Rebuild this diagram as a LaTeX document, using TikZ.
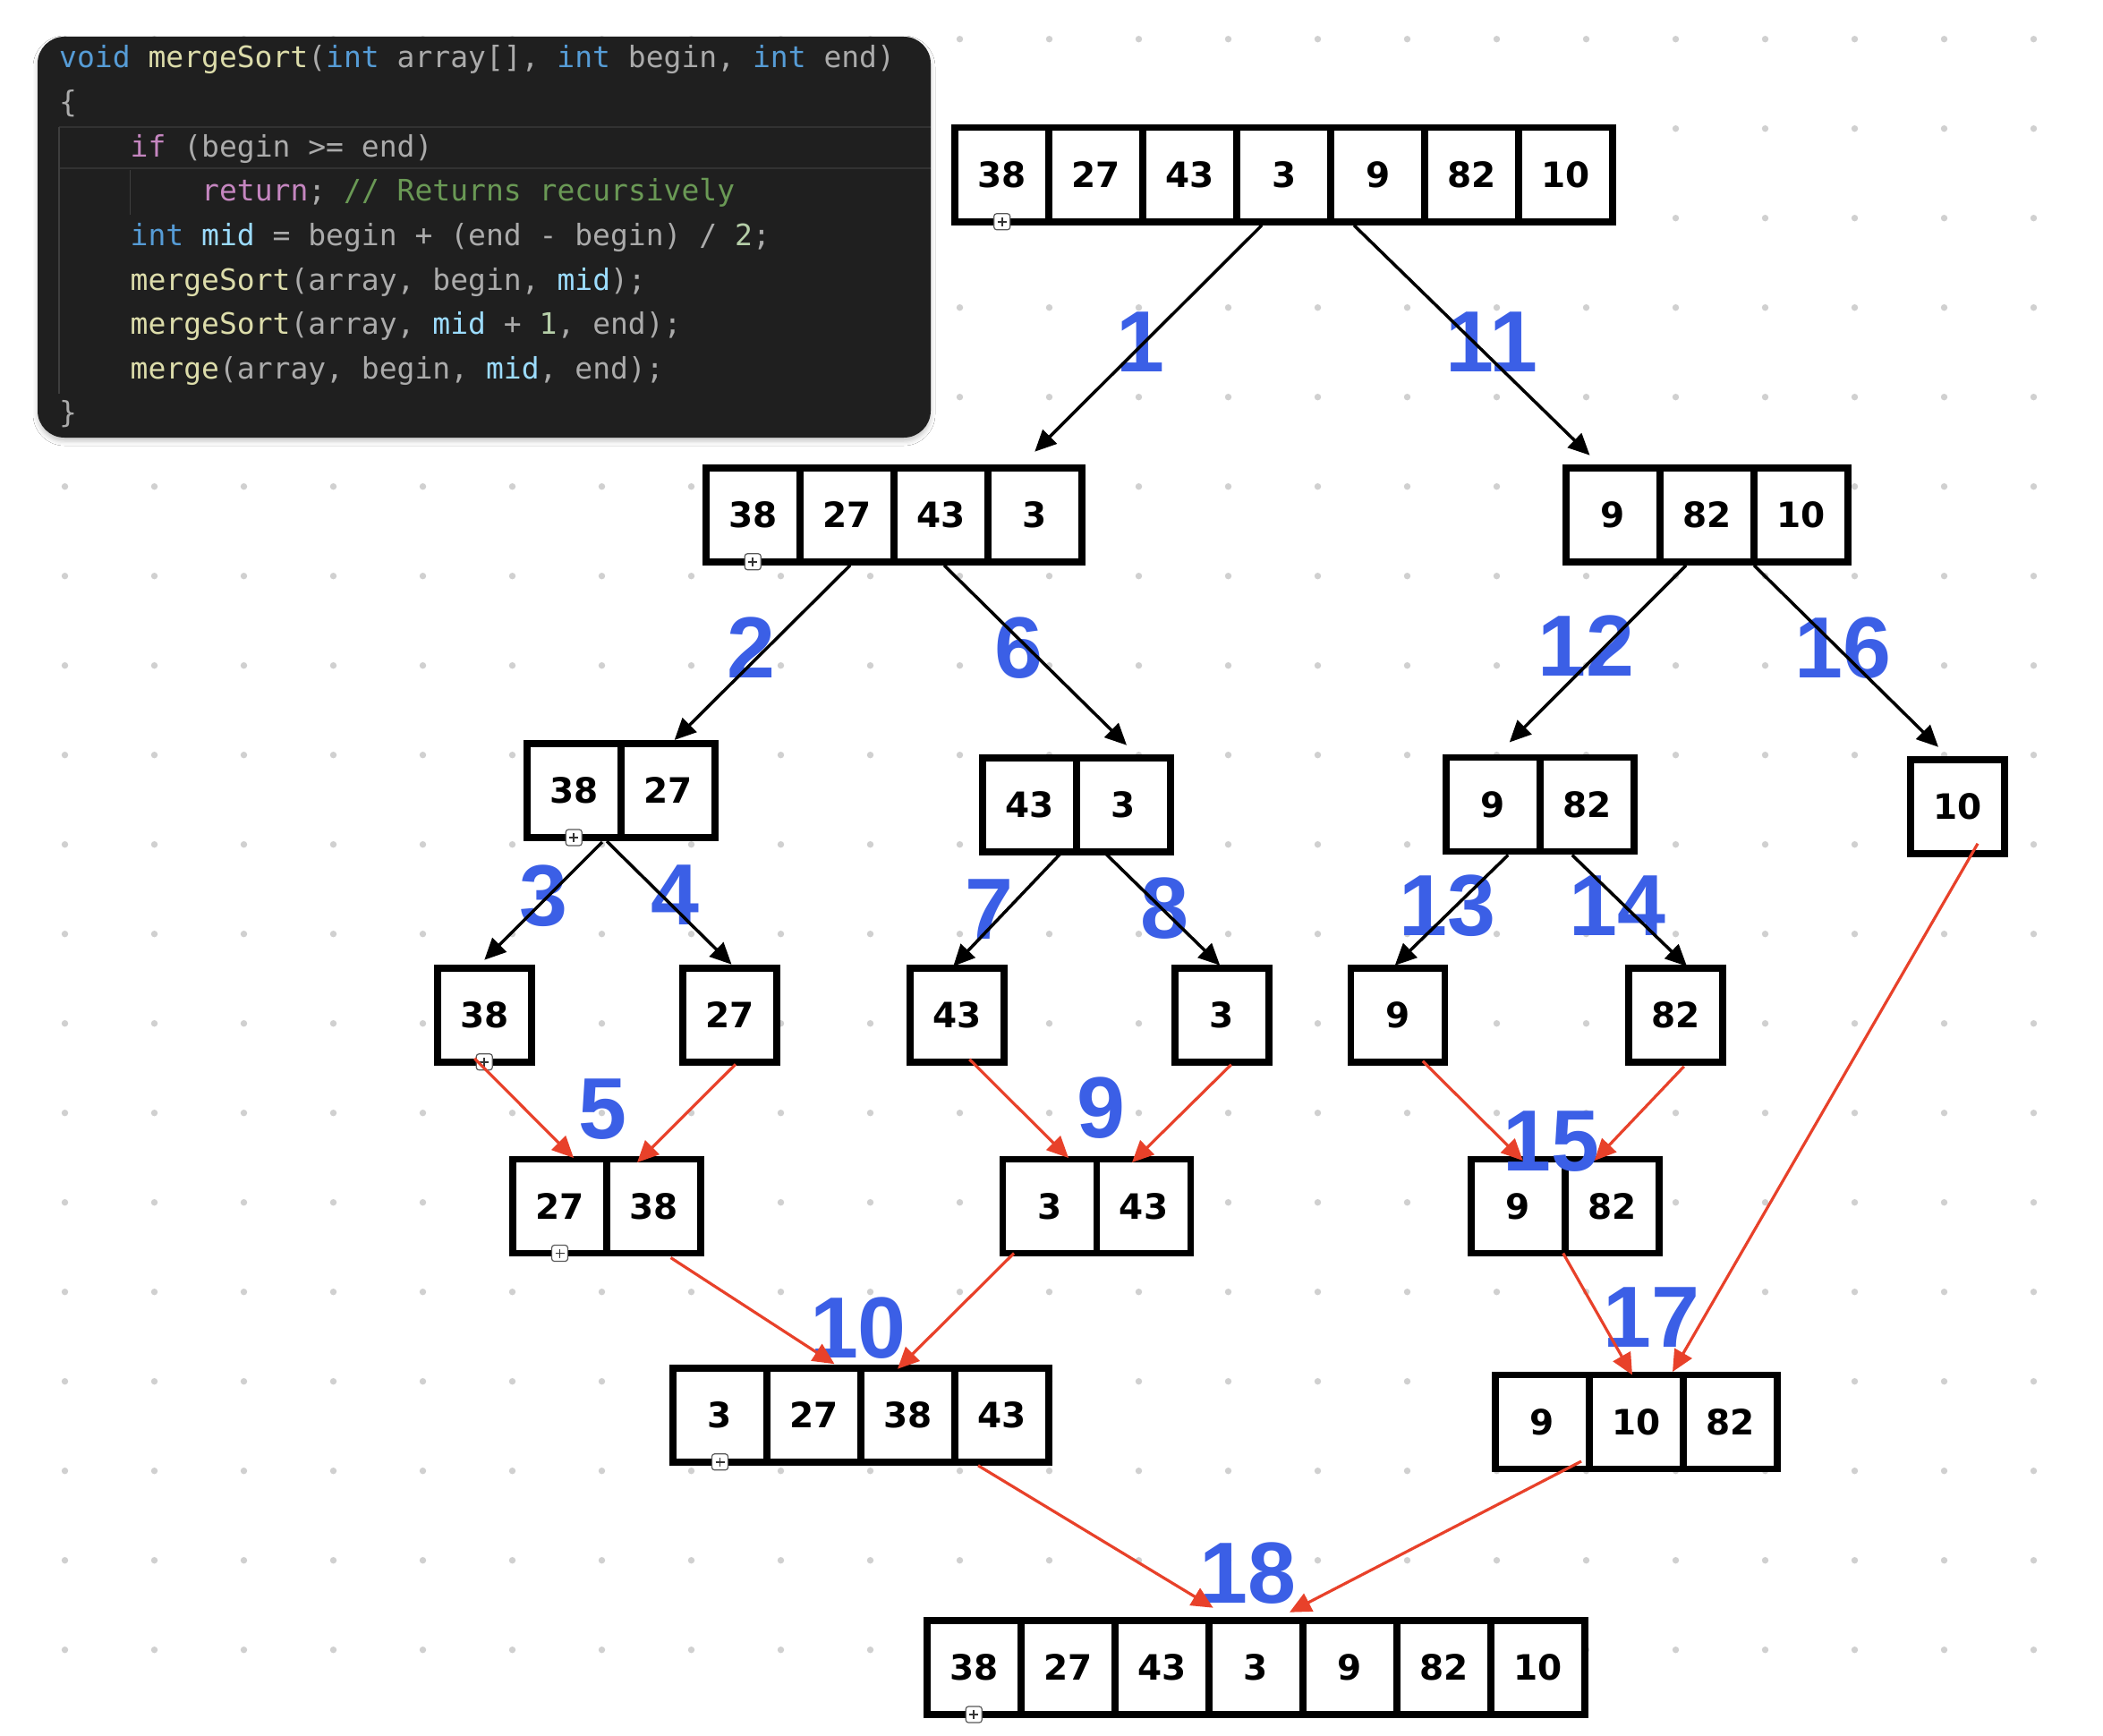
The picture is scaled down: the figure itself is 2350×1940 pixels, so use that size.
\documentclass[tikz,border=0pt]{standalone}
\usepackage{fontspec}
\usetikzlibrary{arrows.meta,calc,shadows.blur}

\newfontfamily\cellfont{DejaVu Sans}
\newfontfamily\stepfont{Liberation Sans}
\newfontfamily\codefont{DejaVu Sans Mono}

\definecolor{stepblue}{RGB}{59,95,230}
\definecolor{mergered}{RGB}{232,65,42}
\definecolor{dotgray}{RGB}{208,208,208}
\definecolor{codebg}{HTML}{1F1F1F}
\definecolor{codegray}{HTML}{ABABAB}
\definecolor{kwblue}{HTML}{569CD6}
\definecolor{fnyellow}{HTML}{DCDCAA}
\definecolor{midblue}{HTML}{9CDCFE}
\definecolor{ctlpink}{HTML}{C586C0}
\definecolor{cmtgreen}{HTML}{6A9955}
\definecolor{numgreen}{HTML}{B5CEA8}
\definecolor{guidegray}{HTML}{3E3E3E}
\definecolor{linehl}{HTML}{323232}

% syntax colouring helpers
\newcommand\ckw[1]{\textcolor{kwblue}{#1}}
\newcommand\cfn[1]{\textcolor{fnyellow}{#1}}
\newcommand\cmid[1]{\textcolor{midblue}{#1}}
\newcommand\cctl[1]{\textcolor{ctlpink}{#1}}
\newcommand\ccmt[1]{\textcolor{cmtgreen}{#1}}
\newcommand\cnum[1]{\textcolor{numgreen}{#1}}

\tikzset{
  cellbox/.style={draw=black, fill=white, line width=7.5pt, minimum size=105pt,
    inner sep=0pt, outer sep=0pt, font=\cellfont\bfseries\fontsize{39}{39}\selectfont},
  steplabel/.style={text=stepblue, inner sep=0pt,
    font=\stepfont\bfseries\fontsize{97}{97}\selectfont},
  divarrow/.style={-{Triangle[length=24pt,width=22pt]}, line width=3.5pt, draw=black},
  mergearrow/.style={-{Triangle[length=24pt,width=22pt]}, line width=3.2pt, draw=mergered},
  plusbox/.style={draw=black!65, fill=white, rounded corners=3pt, minimum size=18pt,
    inner sep=0pt, outer sep=0pt, line width=1.2pt,
    path picture={\draw[line width=1.8pt, black!80]
      ([xshift=-5pt]path picture bounding box.center) -- ([xshift=5pt]path picture bounding box.center)
      ([yshift=-5pt]path picture bounding box.center) -- ([yshift=5pt]path picture bounding box.center);}},
  codeline/.style={anchor=base west, inner sep=0pt, text=codegray,
    font=\codefont\fontsize{33}{33}\selectfont},
}

% a row of array cells: name, left x, top y, values
\newcommand\cellrow[4]{%
  \foreach \v [count=\k] in {#4}{%
    \node[cellbox] (#1-\k) at ({#2+105*\k-52.5},{#3+52.5}) {\v};
  }%
}

\begin{document}
\begin{tikzpicture}[x=1pt,y=-1pt]
\fill[white] (0,0) rectangle (2350,1940);
\useasboundingbox (0,0) rectangle (2350,1940);

% dotted canvas grid
\foreach \i in {0,...,22}{
  \foreach \j in {0,...,18}{
    \fill[dotgray] ({72.5+100*\i},{43.7+100*\j}) circle (3.7);
  }
}

% code panel
\fill[codebg, rounded corners=30pt,
  blur shadow={shadow xshift=0pt, shadow yshift=-4pt, shadow blur radius=5pt, shadow opacity=22}]
  (42,41) rectangle (1040,489);
\draw[line width=2pt, linehl] (66,142) -- (1040,142) (66,188) -- (1040,188);
\draw[line width=1.5pt, guidegray] (66,142) -- (66,440);
\draw[line width=1.5pt, guidegray] (145.5,190) -- (145.5,240);

\node[codeline] (c1) at (66,76) {\ckw{void} \cfn{mergeSort}(\ckw{int} array[], \ckw{int} begin, \ckw{int} end)};
\node[codeline] (c2) at (66,125.6) {\{};
\node[codeline] (c3) at (145.5,175.2) {\cctl{if} (begin >= end)};
\node[codeline] (c4) at (225,224.8) {\cctl{return}; \ccmt{// Returns recursively}};
\node[codeline] (c5) at (145.5,274.4) {\ckw{int} \cmid{mid} = begin + (end - begin) / \cnum{2};};
\node[codeline] (c6) at (145.5,324) {\cfn{mergeSort}(array, begin, \cmid{mid});};
\node[codeline] (c7) at (145.5,373.6) {\cfn{mergeSort}(array, \cmid{mid} + \cnum{1}, end);};
\node[codeline] (c8) at (145.5,423.2) {\cfn{merge}(array, begin, \cmid{mid}, end);};
\node[codeline] (c9) at (66,472.8) {\}};

% arrays
\cellrow{top}{1067.2}{142.75}{38,27,43,3,9,82,10}
\cellrow{lla}{788.75}{522.75}{38,27,43,3}
\cellrow{llb}{1749.75}{522.75}{9,82,10}
\cellrow{lta}{588.75}{831}{38,27}
\cellrow{ltb}{1097.75}{846.75}{43,3}
\cellrow{ltc}{1615.75}{846.5}{9,82}
\cellrow{ltd}{2134.75}{848.75}{10}
\cellrow{sa}{488.75}{1081.75}{38}
\cellrow{sb}{763}{1081.75}{27}
\cellrow{sc}{1016.75}{1081.75}{43}
\cellrow{sd}{1312.75}{1081.75}{3}
\cellrow{se}{1509.25}{1081.75}{9}
\cellrow{sf}{1819.75}{1081.75}{82}
\cellrow{ma}{573}{1295.5}{27,38}
\cellrow{mb}{1120.5}{1295.5}{3,43}
\cellrow{mc}{1643.75}{1295.5}{9,82}
\cellrow{na}{752}{1528.75}{3,27,38,43}
\cellrow{nb}{1671}{1536.5}{9,10,82}
\cellrow{fin}{1035.75}{1811}{38,27,43,3,9,82,10}

% step numbers
\node[steplabel] (n1) at (1274,382) {1};
\node[steplabel] (n11) at (1667,382) {11};
\node[steplabel] (n2) at (839,724) {2};
\node[steplabel] (n6) at (1138,724) {6};
\node[steplabel] (n12) at (1772,722) {12};
\node[steplabel] (n16) at (2059,724) {16};
\node[steplabel] (n3) at (607,1001) {3};
\node[steplabel] (n4) at (754,1000) {4};
\node[steplabel] (n7) at (1105,1016) {7};
\node[steplabel] (n8) at (1301,1015) {8};
\node[steplabel] (n13) at (1617,1012) {13};
\node[steplabel] (n14) at (1807,1012) {14};
\node[steplabel] (n5) at (673,1240) {5};
\node[steplabel] (n9) at (1230,1238) {9};
\node[steplabel] (n15) at (1733,1276) {15};
\node[steplabel] (n10) at (959,1484) {10};
\node[steplabel] (n17) at (1845,1472) {17};
\node[steplabel] (n18) at (1394,1758) {18};

% small expand handles
\node[plusbox] (h1) at (top-1.south) {};
\node[plusbox] (h2) at (lla-1.south) {};
\node[plusbox] (h3) at (lta-1.south) {};
\node[plusbox] (h4) at (sa-1.south) {};
\node[plusbox] (h5) at (ma-1.south) {};
\node[plusbox] (h6) at (na-1.south) {};
\node[plusbox] (h7) at (fin-1.south) {};

% splitting
\draw[divarrow] ($(top-4.south)+(-24.7,4)$) -- ($(lla-4.north)+(0,-18)$);
\draw[divarrow] ($(top-5.south)+(-26.7,4)$) -- ($(llb-1.north)+(-25.75,-14)$);
\draw[divarrow] ($(lla-2.south)+(3.75,4)$) -- ($(lta-2.north)+(7.4,-4)$);
\draw[divarrow] ($(lla-3.south)+(3.75,4)$) -- ($(ltb-2.north)+(3.75,-14)$);
\draw[divarrow] ($(llb-2.south)+(-23.25,4)$) -- ($(ltc-1.north)+(18.5,-17)$);
\draw[divarrow] ($(llb-3.south)+(-52.25,4)$) -- ($(ltd-1.north)+(-21.25,-14)$);
\draw[divarrow] ($(lta-1.south)+(31.75,5)$) -- ($(sa-1.north)+(0,-9)$);
\draw[divarrow] ($(lta-1.south)+(36.75,4)$) -- ($(sb-1.north)+(2,-4)$);
\draw[divarrow] ($(ltb-1.south)+(35,2)$) -- ($(sc-1.north)+(-4,-2)$);
\draw[divarrow] ($(ltb-2.south)+(-20,2)$) -- ($(sd-1.north)+(-2,-3)$);
\draw[divarrow] ($(ltc-1.south)+(17,4)$) -- ($(se-1.north)+(-3,-3)$);
\draw[divarrow] ($(ltc-2.south)+(-16.5,4)$) -- ($(sf-1.north)+(12.75,-2)$);

% merging
\draw[mergearrow] ($(sa-1.south)+(-11,-4)$) -- ($(ma-1.north)+(15.5,-1.5)$);
\draw[mergearrow] ($(sb-1.south)+(6.5,2.5)$) -- ($(ma-2.north)+(-18.5,3.5)$);
\draw[mergearrow] ($(sc-1.south)+(14,-3)$) -- ($(mb-1.north)+(21,-1.5)$);
\draw[mergearrow] ($(sd-1.south)+(10.5,3)$) -- ($(mb-2.north)+(-13,3.5)$);
\draw[mergearrow] ($(se-1.south)+(28,-1)$) -- ($(mc-1.north)+(5.5,1.5)$);
\draw[mergearrow] ($(sf-1.south)+(9.5,5)$) -- ($(mc-2.north)+(-19.5,1.5)$);
\draw[mergearrow] ($(ma-2.south)+(19,5)$) -- ($(na-2.north)+(23,-4.5)$);
\draw[mergearrow] ($(mb-1.south)+(-40,0)$) -- ($(na-3.north)+(-11.5,1)$);
\draw[mergearrow] ($(mc-1.south)+(50.5,0)$) -- ($(nb-2.north)+(-4.5,0)$);
\draw[mergearrow] ($(ltd-1.south)+(22.75,-11)$) -- ($(nb-2.north)+(40.5,-3.5)$);
\draw[mergearrow] ($(na-4.south)+(-26.5,4)$) -- ($(fin-4.north)+(-47.6,-14.3)$);
\draw[mergearrow] ($(nb-1.south)+(43.5,-8.5)$) -- ($(fin-4.north)+(37.75,-9.3)$);
\end{tikzpicture}
\end{document}
